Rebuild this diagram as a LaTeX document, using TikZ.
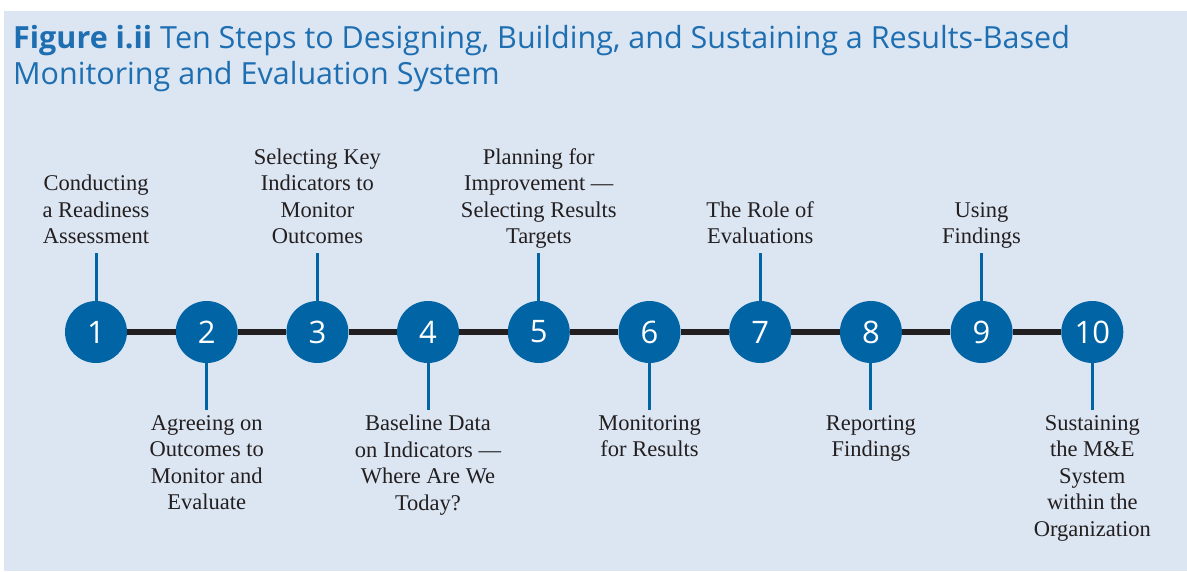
\documentclass[tikz,border=0pt]{standalone}
\usepackage{fontspec}
\setmainfont{Liberation Serif}
\newfontfamily\titlefont{Open Sans}[BoldFont={Open Sans Bold}]
\definecolor{panelbg}{HTML}{DCE6F2}
\definecolor{stepblue}{HTML}{0064A5}
\definecolor{titleblue}{HTML}{1E6EB2}
\definecolor{ink}{HTML}{231F20}
\tikzset{
  stepcirc/.style={circle, fill=stepblue, minimum size=62pt, inner sep=0pt, text=white, font=\titlefont\fontsize{31}{31}\selectfont},
  barline/.style={line width=6pt, draw=ink},
  tickline/.style={line width=3pt, draw=stepblue},
  uplabel/.style={anchor=south, inner sep=0pt, align=center, text=ink, text depth=0pt, font=\fontsize{22.5}{26.5}\selectfont},
  downlabel/.style={anchor=north, inner sep=0pt, align=center, text=ink, font=\fontsize{22.5}{26.5}\selectfont},
  titletext/.style={anchor=base west, inner sep=0pt, text=titleblue, font=\titlefont\fontsize{30.5}{36}\selectfont}
}
\begin{document}
\begin{tikzpicture}[x=1pt,y=-1pt]
\useasboundingbox (0,0) rectangle (1187,571);
\fill[panelbg] (4,11) rectangle (1187,571);
\node[titletext] (title1) at (13,48) {\textbf{Figure i.ii} Ten Steps to Designing, Building, and Sustaining a Results-Based};
\node[titletext] (title2) at (13,84) {Monitoring and Evaluation System};
% circles
\node[stepcirc] (c1) at (96,332) {1};
\node[stepcirc] (c2) at (206.7,332) {2};
\node[stepcirc] (c3) at (317.4,332) {3};
\node[stepcirc] (c4) at (428,332) {4};
\node[stepcirc] (c5) at (538.8,332) {5};
\node[stepcirc] (c6) at (649.5,332) {6};
\node[stepcirc] (c7) at (760.2,332) {7};
\node[stepcirc] (c8) at (870.9,332) {8};
\node[stepcirc] (c9) at (981.6,332) {9};
\node[stepcirc] (c10) at (1092.3,332) {10};
% bar
\draw[barline] (c1.east) -- (c2.west);
\draw[barline] (c2.east) -- (c3.west);
\draw[barline] (c3.east) -- (c4.west);
\draw[barline] (c4.east) -- (c5.west);
\draw[barline] (c5.east) -- (c6.west);
\draw[barline] (c6.east) -- (c7.west);
\draw[barline] (c7.east) -- (c8.west);
\draw[barline] (c8.east) -- (c9.west);
\draw[barline] (c9.east) -- (c10.west);
% upper labels
\node[uplabel] (l1) at (96,244) {Conducting\\a Readiness\\Assessment};
\node[uplabel] (l3) at (317.4,244) {Selecting Key\\Indicators to\\Monitor\\Outcomes};
\node[uplabel] (l5) at (538.8,244) {Planning for\\Improvement —\\Selecting Results\\Targets};
\node[uplabel] (l7) at (760.2,244) {The Role of\\Evaluations};
\node[uplabel] (l9) at (981.6,244) {Using\\Findings};
\coordinate (t1) at (96,253);
\coordinate (t3) at (317.4,253);
\coordinate (t5) at (538.8,253);
\coordinate (t7) at (760.2,253);
\coordinate (t9) at (981.6,253);
\draw[tickline] (t1) -- (c1.north);
\draw[tickline] (t3) -- (c3.north);
\draw[tickline] (t5) -- (c5.north);
\draw[tickline] (t7) -- (c7.north);
\draw[tickline] (t9) -- (c9.north);
% lower labels
\coordinate (b2) at (206.7,410);
\coordinate (b4) at (428,410);
\coordinate (b6) at (649.5,410);
\coordinate (b8) at (870.9,410);
\coordinate (b10) at (1092.3,410);
\draw[tickline] (c2.south) -- (b2);
\draw[tickline] (c4.south) -- (b4);
\draw[tickline] (c6.south) -- (b6);
\draw[tickline] (c8.south) -- (b8);
\draw[tickline] (c10.south) -- (b10);
\node[downlabel] (l2) at (206.7,415) {Agreeing on\\Outcomes to\\Monitor and\\Evaluate};
\node[downlabel] (l4) at (428,415) {Baseline Data\\on Indicators —\\Where Are We\\Today?};
\node[downlabel] (l6) at (649.5,415) {Monitoring\\for Results};
\node[downlabel] (l8) at (870.9,415) {Reporting\\Findings};
\node[downlabel] (l10) at (1092.3,415) {Sustaining\\the M\&E\\System\\within the\\Organization};
\end{tikzpicture}
\end{document}
